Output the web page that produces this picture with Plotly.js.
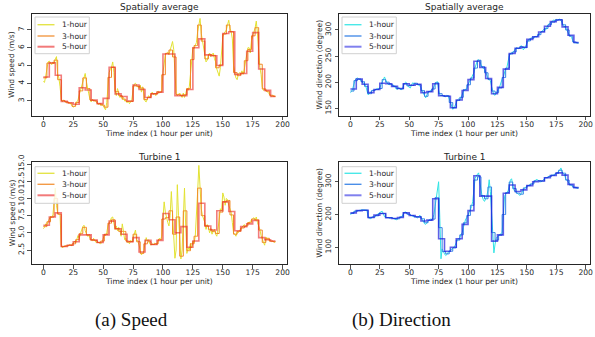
<!DOCTYPE html>
<html><head><meta charset="utf-8">
<script src="https://cdn.plot.ly/plotly-3.0.1.min.js"></script>
<style>html,body{margin:0;padding:0;background:#fff}#chart{width:595px;height:337px}</style>
</head><body><div id="chart"></div>
<script>
// ---- Data ----
const seriesNames = ['1-hour', '3-hour', '5-hour'];
const xTicks = [0, 25, 50, 75, 100, 125, 150, 175, 200];

// Wind speed, spatial average (m/s)
const spdAvg1h = [
  4.1, 4.05, 4.4, 4.95, 5.2, 5.25, 5.1, 5.05, 5.2, 5.1, 5.35, 5.5, 4.5, 4.3, 3.8,
  3.1, 2.95, 3.05, 3.0, 2.9, 2.95, 2.88, 2.9, 2.85, 2.75, 2.65, 2.7, 2.75, 2.95, 3.05,
  3.35, 3.6, 3.75, 4.0, 4.35, 4.55, 4.1, 3.6, 3.4, 3.1, 2.95, 3.1, 3.0, 3.05, 2.95,
  2.9, 2.8, 2.85, 2.75, 2.85, 2.7, 2.55, 2.5, 2.9, 3.6, 4.6, 4.8, 4.9, 5.2, 4.6,
  3.6, 3.3, 3.7, 3.4, 3.2, 3.3, 3.1, 3.2, 3.0, 3.05, 2.9, 3.0, 2.85, 2.95, 3.1,
  3.6, 3.95, 4.0, 3.9, 3.85, 3.7, 3.9, 3.5, 3.8, 3.3, 3.0, 2.95, 3.1, 3.3, 3.2,
  3.4, 3.5, 3.35, 3.45, 3.3, 3.5, 3.55, 3.45, 3.5, 3.55, 4.6, 5.3, 5.6, 5.7, 5.75,
  5.6, 5.9, 6.1, 6.35, 5.9, 4.2, 3.4, 3.3, 3.4, 3.45, 3.3, 3.2, 3.45, 3.2, 3.4,
  3.7, 3.6, 3.8, 4.5, 5.5, 6.0, 5.95, 6.1, 6.3, 6.9, 7.3, 7.65, 6.8, 6.3, 6.0,
  5.6, 5.2, 5.3, 5.6, 5.7, 5.5, 5.6, 5.7, 5.4, 5.2, 4.8, 4.6, 4.4, 4.9, 5.8,
  6.6, 6.8, 6.9, 7.0, 7.3, 7.55, 7.1, 6.9, 6.5, 5.0, 4.6, 4.3, 4.2, 4.5, 4.6,
  4.5, 4.7, 4.5, 4.8, 5.3, 5.7, 6.0, 6.0, 5.7, 6.4, 6.7, 6.9, 7.1, 7.5, 6.8,
  5.8, 4.9, 4.5, 3.8, 3.6, 3.65, 3.6, 3.55, 3.5, 3.4, 3.3, 3.25, 3.3, 3.25, 3.25
];
const spdAvg3h = [
  4.3, 5.13, 5.12, 5.3, 4.2, 3.03, 2.95, 2.88, 2.7, 2.92,
  3.57, 4.3, 3.7, 3.05, 3.0, 2.85, 2.77, 2.65, 4.33, 4.9,
  3.53, 3.3, 3.1, 2.98, 2.97, 3.85, 3.82, 3.73, 3.08, 3.2,
  3.42, 3.42, 3.5, 4.48, 5.68, 5.87, 5.48, 3.37, 3.32, 3.35,
  3.7, 5.33, 6.12, 7.28, 6.37, 5.37, 5.6, 5.57, 4.87, 5.03,
  6.77, 7.28, 6.9, 4.6, 4.43, 4.57, 5.27, 5.9, 6.67, 7.13,
  5.07, 3.68, 3.55, 3.32, 3.27
];
const spdAvg5h = [
  4.35, 5.15, 4.45, 2.98, 2.9, 2.82, 3.75, 3.62, 3.05, 2.85,
  3.15, 4.9, 3.4, 3.25, 3.0, 3.9, 3.65, 3.2, 3.4, 3.5,
  5.65, 5.65, 3.3, 3.3, 3.65, 6.0, 6.5, 5.6, 5.55, 5.0,
  6.8, 6.9, 4.5, 4.55, 5.8, 6.85, 4.8, 3.6, 3.25
];

// Wind speed, turbine 1 (m/s)
const spdT11h = [
  5.6, 5.8, 6.3, 6.2, 6.6, 7.1, 7.4, 7.2, 7.6, 9.5, 11.5, 9.0, 7.9, 7.7, 7.5,
  3.3, 2.8, 3.0, 3.1, 3.0, 3.2, 3.1, 3.3, 3.2, 3.1, 3.4, 3.8, 3.5, 4.0, 4.6,
  4.2, 5.0, 5.4, 5.9, 6.1, 5.3, 4.9, 4.5, 4.6, 4.2, 4.0, 3.8, 4.2, 3.9, 3.6,
  3.7, 3.6, 3.5, 3.4, 3.6, 4.3, 4.7, 4.6, 5.0, 6.0, 6.5, 6.8, 7.2, 7.3, 6.3,
  5.5, 6.0, 5.3, 5.8, 5.4, 4.5, 6.3, 5.2, 4.0, 4.2, 3.6, 3.7, 3.4, 3.9, 3.7,
  4.2, 4.8, 5.4, 4.0, 3.8, 3.2, 2.6, 1.8, 2.0, 2.4, 3.5, 4.3, 3.8, 4.0, 3.4,
  3.2, 3.4, 3.3, 3.5, 3.4, 3.3, 3.9, 4.2, 4.0, 4.5, 7.0, 9.5, 8.0, 7.0, 6.5,
  6.0, 7.5, 11.0, 8.0, 5.0, 1.3, 2.5, 12.0, 7.5, 3.0, 1.2, 2.5, 7.0, 11.5, 6.0,
  2.0, 2.8, 2.5, 3.5, 2.8, 3.8, 3.5, 4.5, 7.0, 11.0, 14.8, 12.0, 8.5, 7.5, 7.0,
  6.5, 5.5, 6.2, 5.8, 5.0, 5.6, 4.8, 5.2, 5.5, 4.8, 4.5, 5.5, 7.5, 8.5, 8.2,
  10.8, 10.2, 9.0, 10.0, 9.8, 9.0, 8.5, 8.0, 6.5, 5.0, 4.8, 4.5, 5.2, 5.0, 5.4,
  5.3, 5.8, 6.0, 6.2, 5.9, 6.0, 6.5, 6.3, 6.7, 6.9, 7.0, 7.2, 6.8, 7.3, 6.5,
  6.0, 5.5, 4.6, 4.0, 3.6, 3.2, 4.4, 4.0, 4.2, 3.8, 3.9, 3.7, 3.8, 3.6, 3.7
];
const spdT13h = [
  5.9, 6.6, 7.3, 10.0, 7.7, 3.0, 3.1, 3.2, 3.4, 4.0,
  4.9, 5.8, 4.7, 4.0, 3.9, 3.6, 3.8, 4.8, 6.4, 6.9,
  5.6, 5.2, 5.2, 3.8, 3.7, 4.8, 3.7, 2.0, 3.4, 3.7,
  3.3, 3.4, 4.0, 7.0, 7.2, 8.2, 4.8, 7.3, 1.6, 8.2,
  2.4, 3.4, 4.5, 11.5, 7.5, 6.0, 5.5, 5.2, 4.9, 8.0,
  9.5, 9.7, 7.6, 4.8, 5.2, 5.7, 6.0, 6.5, 7.0, 6.9,
  5.4, 3.6, 4.2, 3.8, 3.7
];
const spdT15h = [
  6.1, 7.3, 7.9, 3.0, 3.2, 3.7, 4.7, 4.7, 3.95, 3.6,
  4.7, 6.7, 5.6, 4.8, 3.7, 4.3, 2.2, 3.9, 3.3, 3.9,
  7.8, 6.9, 5.0, 5.9, 2.9, 3.8, 9.3, 6.0, 5.4, 8.2,
  9.5, 8.1, 5.3, 5.9, 6.3, 6.8, 4.3, 4.0, 3.8
];

// Wind direction, spatial average (degree)
const dirAvg1h = [
  180, 182, 188, 198, 204, 207, 208, 206, 205, 204, 200, 199, 197, 193, 185,
  176, 178, 181, 184, 185, 184, 185, 186, 188, 186, 189, 195, 200, 205, 210,
  204, 199, 196, 195, 197, 195, 193, 194, 190, 187, 186, 190, 188, 185, 187,
  193, 198, 200, 198, 192, 190, 189, 195, 199, 197, 198, 196, 197, 195, 193,
  190, 183, 178, 172, 170, 176, 180, 182, 184, 183, 186, 193, 197, 200, 201,
  185, 176, 174, 175, 173, 173, 172, 175, 174, 168, 160, 152, 148, 150, 156,
  162, 166, 168, 166, 170, 178, 182, 185, 186, 188, 196, 200, 202, 208, 214,
  218, 228, 236, 242, 243, 240, 234, 229, 226, 226, 218, 210, 207, 205, 203,
  192, 182, 176, 175, 180, 186, 188, 192, 200, 206, 210, 220, 226, 228, 240,
  250, 254, 257, 256, 260, 263, 266, 265, 264, 267, 270, 268, 262, 265, 270,
  275, 280, 283, 282, 284, 287, 285, 288, 287, 289, 290, 294, 296, 297, 299,
  302, 300, 306, 310, 312, 313, 315, 318, 319, 318, 320, 319, 320, 321, 318,
  314, 308, 306, 305, 300, 296, 290, 289, 286, 280, 276, 275, 276, 275, 275
];
const dirAvg3h = [
  183, 203, 206, 201, 192, 178, 184, 186, 188, 205,
  200, 196, 192, 188, 187, 197, 193, 194, 198, 195,
  184, 173, 182, 187, 199, 178, 174, 174, 161, 151,
  165, 171, 186, 195, 208, 227, 242, 230, 218, 205,
  183, 180, 189, 209, 227, 254, 258, 265, 268, 266,
  279, 284, 287, 291, 297, 303, 310, 315, 319, 320,
  310, 300, 288, 277, 275
];
const dirAvg5h = [
  187, 206, 196, 180, 186, 198, 197, 192, 188, 197,
  194, 196, 180, 182, 197, 174, 173, 151, 166, 184,
  205, 240, 228, 207, 178, 190, 225, 255, 265, 267,
  282, 287, 296, 307, 316, 319, 306, 290, 276
];

// Wind direction, turbine 1 (degree)
const dirT11h = [
  200, 203, 205, 208, 210, 211, 212, 212, 213, 213, 214, 214, 214, 213, 213,
  195, 188, 186, 190, 194, 193, 195, 198, 200, 203, 206, 208, 210, 202, 193,
  192, 190, 191, 189, 190, 191, 189, 188, 186, 184, 186, 190, 192, 190, 196,
  203, 207, 208, 205, 200, 201, 199, 196, 194, 193, 195, 191, 189, 194, 198,
  192, 185, 180, 172, 170, 176, 182, 184, 186, 185, 187, 200, 225, 250, 285,
  300, 190, 65, 95, 85, 80, 75, 78, 85, 88, 90, 92, 95, 100, 106,
  118, 122, 126, 130, 138, 145, 160, 178, 186, 190, 198, 205, 218, 224, 240,
  285, 310, 318, 322, 327, 300, 268, 255, 245, 240, 248, 256, 275, 306, 270,
  210, 140, 83, 110, 128, 132, 135, 138, 140, 145, 200, 255, 262, 268, 272,
  285, 305, 309, 290, 275, 270, 268, 265, 262, 258, 262, 268, 276, 282, 284,
  285, 288, 290, 292, 293, 294, 298, 304, 307, 306, 304, 300, 299, 302, 306,
  310, 313, 312, 314, 316, 318, 320, 319, 320, 322, 325, 328, 330, 335, 342,
  330, 326, 322, 310, 305, 300, 292, 290, 288, 285, 282, 281, 282, 280, 281
];
const dirT13h = [
  203, 210, 212, 213, 213, 190, 192, 196, 203, 203,
  191, 190, 188, 187, 193, 206, 201, 197, 193, 192,
  187, 175, 182, 186, 252, 160, 87, 80, 88, 98,
  122, 138, 175, 197, 228, 305, 315, 258, 248, 284,
  145, 122, 137, 200, 267, 299, 279, 265, 262, 281,
  288, 293, 303, 303, 302, 312, 316, 320, 325, 335,
  326, 305, 290, 283, 281
];
const dirT15h = [
  205, 212, 213, 191, 198, 203, 190, 188, 191, 205,
  197, 193, 180, 183, 248, 126, 88, 100, 126, 170,
  212, 318, 256, 256, 119, 138, 265, 290, 270, 275,
  288, 300, 302, 312, 319, 327, 320, 292, 282
];

// ---- Helpers ----
function hourIndex(n) { const a = []; for (let i = 0; i < n; i++) a.push(i); return a; }
// each block value holds for `size` consecutive hours
function holdBlocks(blocks, size, n) {
  const out = [];
  for (let t = 0; t < n; t++) out.push(blocks[Math.floor(t / size)]);
  return out;
}

const W = 595, H = 337;
const px = v => v / W;            // page pixel -> paper x
const py = v => 1 - v / H;        // page pixel -> paper y

const speedColors = ['#e2e232', '#f28a26', 'rgba(232,30,30,0.58)'];
const speedLegendColors = ['#e4e44a', '#f39a46', '#f27a7a'];
const dirColors = ['#30e4e4', '#3484e6', 'rgba(20,20,220,0.68)'];
const dirLegendColors = ['#4ae8e8', '#4a8ee8', '#8080ee'];
const widths = [1, 1, 1.6];

const panels = [
  {xa: 'x', ya: 'y', data: [spdAvg1h, spdAvg3h, spdAvg5h], colors: speedColors, lcol: speedLegendColors, box: [35, 89.3, 17, 53.7], rows: [24.7, 36, 46.7]},
  {xa: 'x2', ya: 'y2', data: [dirAvg1h, dirAvg3h, dirAvg5h], colors: dirColors, lcol: dirLegendColors, box: [342, 396.3, 17, 53.7], rows: [24.7, 36, 46.7]},
  {xa: 'x3', ya: 'y3', data: [spdT11h, spdT13h, spdT15h], colors: speedColors, lcol: speedLegendColors, box: [35, 89.3, 166.7, 203.3], rows: [173.3, 184.3, 195.3]},
  {xa: 'x4', ya: 'y4', data: [dirT11h, dirT13h, dirT15h], colors: dirColors, lcol: dirLegendColors, box: [342, 396.3, 166.7, 203.3], rows: [173.3, 184.3, 195.3]}
];

const FONT = 'DejaVu Sans, Arial, sans-serif';
const ink = '#262626';

const traces = [];
const shapes = [];
const annotations = [];
panels.forEach(p => {
  const n = p.data[0].length;
  const t = hourIndex(n);
  const ys = [p.data[0], holdBlocks(p.data[1], 3, n), holdBlocks(p.data[2], 5, n)];
  ys.forEach((y, k) => {
    traces.push({
      type: 'scatter', mode: 'lines', x: t, y: y,
      name: seriesNames[k], xaxis: p.xa, yaxis: p.ya, showlegend: false,
      line: {color: p.colors[k], width: widths[k], shape: k === 0 ? 'linear' : 'hv'},
      hoverinfo: 'skip'
    });
  });
  // legend box (matplotlib style, inside upper-left)
  const [x0, x1, y0, y1] = p.box;
  shapes.push({type: 'rect', xref: 'paper', yref: 'paper', layer: 'above',
    x0: px(x0), x1: px(x1), y0: py(y1), y1: py(y0),
    fillcolor: 'rgba(255,255,255,0.8)', line: {color: '#d0d0d0', width: 1}});
  p.rows.forEach((ry, k) => {
    shapes.push({type: 'line', xref: 'paper', yref: 'paper', layer: 'above',
      x0: px(x0 + 2.5), x1: px(x0 + 19.5), y0: py(ry), y1: py(ry),
      line: {color: p.lcol[k], width: k === 2 ? 2 : 1.4}});
    annotations.push({text: seriesNames[k], xref: 'paper', yref: 'paper',
      x: px(x0 + 25.3), y: py(ry), xanchor: 'left', yanchor: 'middle', showarrow: false,
      font: {family: FONT, size: 7.6, color: ink}});
  });
});

function xAxis(domain, anchor) {
  return {
    domain: domain, anchor: anchor, range: [-9.7, 203.7], tickvals: xTicks,
    ticks: 'outside', ticklen: 3.5, tickwidth: 0.8, tickcolor: ink, ticklabelstandoff: -3,
    ticklabeloverflow: 'allow',
    showline: true, mirror: true, linecolor: ink, linewidth: 1,
    showgrid: false, zeroline: false,
    tickfont: {family: FONT, size: 7.6, color: ink},
    title: {text: 'Time index (1 hour per unit)', font: {family: FONT, size: 7.6, color: ink}, standoff: 0}
  };
}
function yAxis(domain, anchor, range, tickvals, ticktext) {
  const a = {
    domain: domain, anchor: anchor, range: range, tickvals: tickvals,
    ticks: 'outside', ticklen: 3.5, tickwidth: 0.8, tickcolor: ink, tickangle: -90,
    showline: true, mirror: true, linecolor: ink, linewidth: 1,
    showgrid: false, zeroline: false,
    tickfont: {family: FONT, size: 7.6, color: ink}
  };
  if (ticktext) a.ticktext = ticktext;
  return a;
}

const topD = [0.6558, 0.9585], botD = [0.2166, 0.5184];
const leftD = [0.0533, 0.4824], rightD = [339 / 595, 590 / 595];

const subTitle = (text, x, y) => ({text: text, x: x, y: y, xref: 'paper', yref: 'paper',
  xanchor: 'center', yanchor: 'middle', showarrow: false, font: {family: FONT, size: 9, color: ink}});
const yTitle = (text, x, y) => ({text: text, x: x, y: y, xref: 'paper', yref: 'paper', textangle: -90,
  xanchor: 'center', yanchor: 'middle', showarrow: false, font: {family: FONT, size: 7.6, color: ink}});
const caption = (text, x) => ({text: text, x: x, y: 0.0504, xref: 'paper', yref: 'paper',
  xanchor: 'center', yanchor: 'middle', showarrow: false,
  font: {family: 'Liberation Serif, Times New Roman, serif', size: 19, color: '#111'}});

annotations.push(
  subTitle('Spatially average', 0.268, 0.979),
  subTitle('Spatially average', 0.7803, 0.979),
  subTitle('Turbine 1', 0.268, 0.534),
  subTitle('Turbine 1', 0.7803, 0.534),
  yTitle('Wind speed (m/s)', px(12), (topD[0] + topD[1]) / 2),
  yTitle('Wind direction (degree)', px(319.5), (topD[0] + topD[1]) / 2),
  yTitle('Wind speed (m/s)', px(12), (botD[0] + botD[1]) / 2),
  yTitle('Wind direction (degree)', px(319.5), (botD[0] + botD[1]) / 2),
  caption('(a) Speed', 0.2218),
  caption('(b) Direction', 0.6756)
);

const layout = {
  width: W, height: H,
  margin: {l: 0, r: 0, t: 0, b: 0},
  paper_bgcolor: '#ffffff', plot_bgcolor: '#ffffff',
  font: {family: FONT, color: ink},
  showlegend: false,
  xaxis: xAxis(leftD, 'y'),
  yaxis: yAxis(topD, 'x', [2.155, 7.9], [3, 4, 5, 6, 7], null),
  xaxis2: xAxis(rightD, 'y2'),
  yaxis2: yAxis(topD, 'x2', [135.25, 330.6], [150, 200, 250, 300], null),
  xaxis3: xAxis(leftD, 'y3'),
  yaxis3: yAxis(botD, 'x3', [0.465, 15.25], [2.5, 5, 7.5, 10, 12.5, 15], ['2.5', '5.0', '7.5', '10.0', '12.5', '15.0']),
  xaxis4: xAxis(rightD, 'y4'),
  yaxis4: yAxis(botD, 'x4', [49.1, 359.2], [100, 200, 300], null),
  shapes: shapes,
  annotations: annotations
};

Plotly.newPlot('chart', traces, layout, {staticPlot: true, displayModeBar: false});
</script>
</body></html>
